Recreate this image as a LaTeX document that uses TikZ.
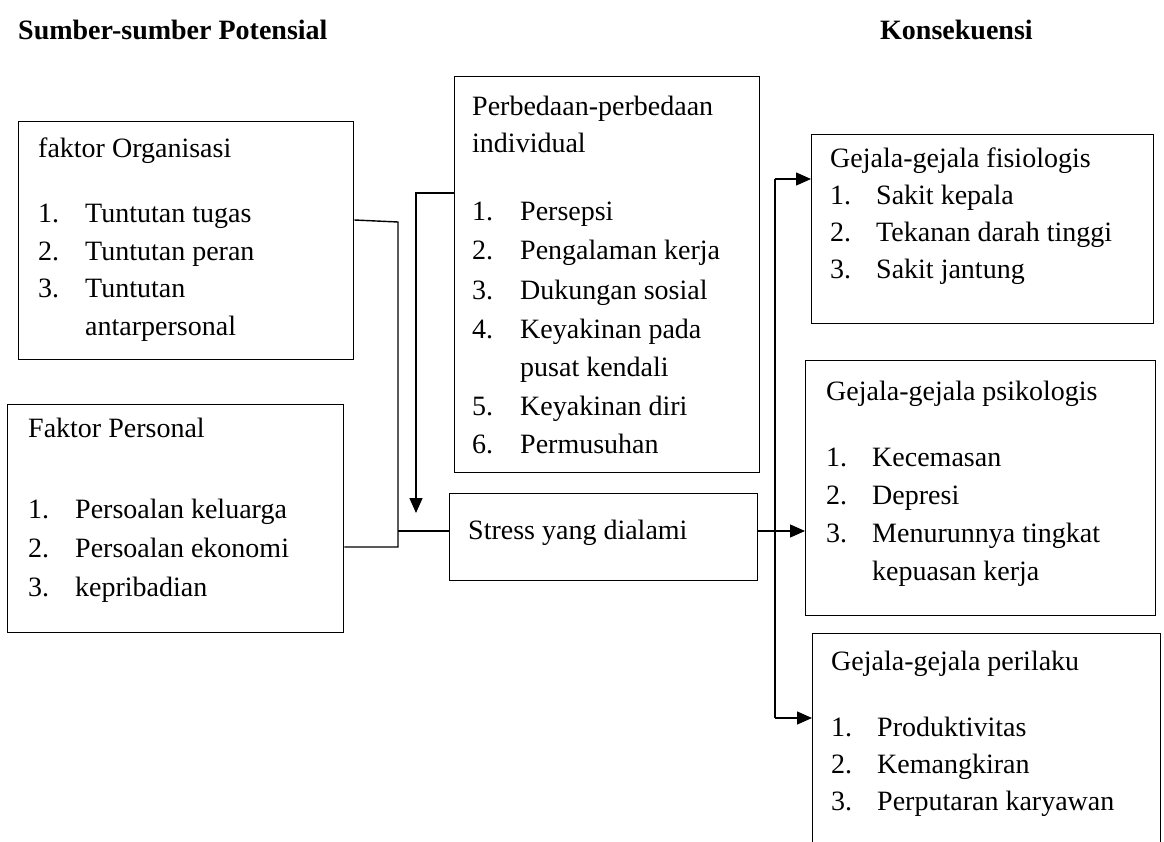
\documentclass[tikz,border=0pt]{standalone}
\usepackage{fontspec}
\setmainfont{Liberation Serif}
\usetikzlibrary{arrows.meta,calc}
\tikzset{
  box/.style={draw, line width=1.4pt, rectangle, inner sep=0pt, anchor=north west},
  txt/.style={anchor=base west, inner sep=0pt, font=\fontsize{28}{34}\selectfont},
  ttl/.style={anchor=base west, inner sep=0pt, font=\fontsize{28}{34}\selectfont\bfseries},
  conn/.style={line width=1.4pt},
  arr/.style={line width=1.4pt, -{Triangle[length=15pt,width=13pt]}}
}
\begin{document}
\begin{tikzpicture}[x=1pt,y=-1pt]
\useasboundingbox (0,0) rectangle (1164,842);
% titles
\node[ttl] (t1) at (18,40) {Sumber-sumber Potensial};
\node[ttl] (t2) at (880,40) {Konsekuensi};
% Box A
\node[box, minimum width=335pt, minimum height=238pt] (A) at (18,121) {};
\node[txt] (a0) at (38,158) {faktor Organisasi};
\node[txt] (a1n) at (38,223) {1.};  \node[txt] (a1) at (85,223) {Tuntutan tugas};
\node[txt] (a2n) at (38,261) {2.};  \node[txt] (a2) at (85,261) {Tuntutan peran};
\node[txt] (a3n) at (38,298) {3.};  \node[txt] (a3) at (85,298) {Tuntutan};
\node[txt] (a4) at (85,335) {antarpersonal};
% Box B
\node[box, minimum width=336pt, minimum height=228pt] (B) at (7,404) {};
\node[txt] (b0) at (28,437) {Faktor Personal};
\node[txt] (b1n) at (28,518) {1.};  \node[txt] (b1) at (75,518) {Persoalan keluarga};
\node[txt] (b2n) at (28,557) {2.};  \node[txt] (b2) at (75,557) {Persoalan ekonomi};
\node[txt] (b3n) at (28,596) {3.};  \node[txt] (b3) at (75,596) {kepribadian};
% Box C
\node[box, minimum width=305pt, minimum height=396pt] (C) at (454,76) {};
\node[txt] (c0) at (472,116) {Perbedaan-perbedaan};
\node[txt] (c0b) at (472,153) {individual};
\node[txt] (c1n) at (472,221) {1.};  \node[txt] (c1) at (520,221) {Persepsi};
\node[txt] (c2n) at (472,260) {2.};  \node[txt] (c2) at (520,260) {Pengalaman kerja};
\node[txt] (c3n) at (472,299) {3.};  \node[txt] (c3) at (520,299) {Dukungan sosial};
\node[txt] (c4n) at (472,338) {4.};  \node[txt] (c4) at (520,338) {Keyakinan pada};
\node[txt] (c4b) at (520,376) {pusat kendali};
\node[txt] (c5n) at (472,415) {5.};  \node[txt] (c5) at (520,415) {Keyakinan diri};
\node[txt] (c6n) at (472,453) {6.};  \node[txt] (c6) at (520,453) {Permusuhan};
% Stress box
\node[box, minimum width=308pt, minimum height=87pt] (S) at (449,493) {};
\node[txt] (s0) at (468,539) {Stress yang dialami};
% Box D
\node[box, minimum width=342pt, minimum height=189pt] (D) at (811,134) {};
\node[txt] (d0) at (830,168) {Gejala-gejala fisiologis};
\node[txt] (d1n) at (830,205) {1.};  \node[txt] (d1) at (876,205) {Sakit kepala};
\node[txt] (d2n) at (830,242) {2.};  \node[txt] (d2) at (876,242) {Tekanan darah tinggi};
\node[txt] (d3n) at (830,279) {3.};  \node[txt] (d3) at (876,279) {Sakit jantung};
% Box E
\node[box, minimum width=350pt, minimum height=255pt] (E) at (805,360) {};
\node[txt] (e0) at (826,400) {Gejala-gejala psikologis};
\node[txt] (e1n) at (826,466) {1.};  \node[txt] (e1) at (872,466) {Kecemasan};
\node[txt] (e2n) at (826,504) {2.};  \node[txt] (e2) at (872,504) {Depresi};
\node[txt] (e3n) at (826,542) {3.};  \node[txt] (e3) at (872,542) {Menurunnya tingkat};
\node[txt] (e4) at (872,580) {kepuasan kerja};
% Box F (bottom cut off by page)
\node[box, minimum width=348pt, minimum height=260pt] (F) at (812,633) {};
\node[txt] (f0) at (831,670) {Gejala-gejala perilaku};
\node[txt] (f1n) at (831,736) {1.};  \node[txt] (f1) at (877,736) {Produktivitas};
\node[txt] (f2n) at (831,773) {2.};  \node[txt] (f2) at (877,773) {Kemangkiran};
\node[txt] (f3n) at (831,810) {3.};  \node[txt] (f3) at (877,810) {Perputaran karyawan};
% connectors left
\coordinate (ya) at (0,220);
\coordinate (jA) at (398,222);
\coordinate (jB) at (398,547);
\coordinate (jS) at (398,531);
\draw[conn] (A.east |- ya) -- (jA) -- (jB) -- (B.east |- jB);
\draw[conn] (jS) -- (S.west |- jS);
\coordinate (yc) at (0,193);
\coordinate (dA) at (416,193);
\coordinate (dB) at (416,513);
\draw[arr] (C.west |- yc) -- (dA) -- (dB);
% connectors right
\coordinate (rT) at (775,179);
\coordinate (rB) at (775,718);
\draw[arr] (S.east |- jS) -- (E.west |- jS);
\draw[conn] (rT) -- (rB);
\draw[arr] (rT) -- (D.west |- rT);
\draw[arr] (rB) -- (F.west |- rB);
\end{tikzpicture}
\end{document}
